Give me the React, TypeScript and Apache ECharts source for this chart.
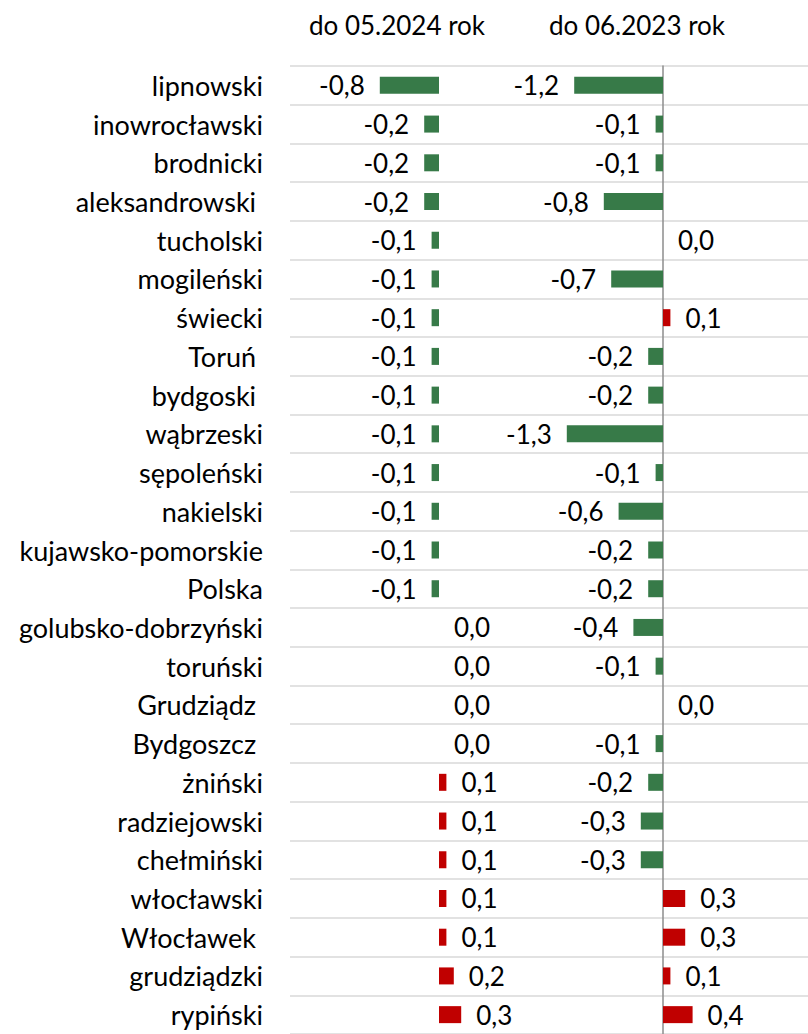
import React, { useEffect, useRef } from "react";
import * as echarts from "echarts";

const categories = [
  "lipnowski",
  "inowrocławski",
  "brodnicki",
  "aleksandrowski ",
  "tucholski",
  "mogileński",
  "świecki",
  "Toruń ",
  "bydgoski ",
  "wąbrzeski",
  "sępoleński",
  "nakielski",
  "kujawsko-pomorskie",
  "Polska",
  "golubsko-dobrzyński",
  "toruński",
  "Grudziądz ",
  "Bydgoszcz ",
  "żniński",
  "radziejowski",
  "chełmiński",
  "włocławski",
  "Włocławek ",
  "grudziądzki",
  "rypiński",
];

const values2024 = [
  -0.8, -0.2, -0.2, -0.2, -0.1, -0.1, -0.1, -0.1, -0.1, -0.1, -0.1, -0.1, -0.1,
  -0.1, 0.0, 0.0, 0.0, 0.0, 0.1, 0.1, 0.1, 0.1, 0.1, 0.2, 0.3,
];

const values2023 = [
  -1.2, -0.1, -0.1, -0.8, 0.0, -0.7, 0.1, -0.2, -0.2, -1.3, -0.1, -0.6, -0.2,
  -0.2, -0.4, -0.1, 0.0, -0.1, -0.2, -0.3, -0.3, 0.3, 0.3, 0.1, 0.4,
];

const seriesTitles = ["do 05.2024 rok", "do 06.2023 rok"];

const GREEN = "#377A48";
const RED = "#C00000";
const FONT = "Lato";
const FS_CAT = 27;
const FS_NUM = 26;

const PX_PER_UNIT = 74;
const ZERO_OFFSET = 149;

function fmt(v: number) {
  return v.toFixed(1).replace(".", ",");
}

function buildData(vals: number[]) {
  return vals.map((v) => ({
    value: v,
    itemStyle: { color: v < 0 ? GREEN : RED },
    label: { position: v < 0 ? "left" : "right" },
  }));
}

export default function App() {
  const ref = useRef<HTMLDivElement>(null);
  useEffect(() => {
    if (!ref.current) return;
    const chart = echarts.init(ref.current, null, { renderer: "svg" });
    const leftW = 224;
    const rightW = 294;
    const grids = [
      { left: 290, top: 66, width: leftW, height: 970 },
      { left: 290 + leftW, top: 66, width: rightW, height: 970 },
    ];
    const xAxes = grids.map((g, i) => ({
      type: "value",
      gridIndex: i,
      min: -ZERO_OFFSET / PX_PER_UNIT,
      max: (g.width - ZERO_OFFSET) / PX_PER_UNIT,
      show: false,
      splitLine: { show: false },
    }));
    const yAxes = grids.map((g, i) => ({
      type: "category",
      gridIndex: i,
      data: categories,
      inverse: true,
      axisTick: { show: false },
      axisLine: {
        show: i === 1,
        onZero: true,
        lineStyle: { color: "#8C8C8C", width: 1.5 },
      },
      splitLine: {
        show: true,
        lineStyle: { color: "#D9D9D9", width: 1.5 },
      },
      axisLabel: {
        show: i === 0,
        color: "#000",
        fontFamily: FONT,
        fontSize: FS_CAT,
        margin: 27,
      },
    }));
    const mkSeries = (vals: number[], i: number) => ({
      type: "bar",
      xAxisIndex: i,
      yAxisIndex: i,
      data: buildData(vals),
      barWidth: 17,
      label: {
        show: true,
        distance: 15,
        color: "#000",
        fontFamily: FONT,
        fontSize: FS_NUM,
        formatter: (p: any) => fmt(p.value),
      },
    });
    chart.setOption({
      animation: false,
      backgroundColor: "#fff",
      grid: grids,
      xAxis: xAxes,
      yAxis: yAxes,
      series: [mkSeries(values2024, 0), mkSeries(values2023, 1)],
      graphic: [
        {
          type: "text",
          x: 397,
          y: 25,
          style: {
            text: seriesTitles[0],
            fill: "#000",
            font: `${FS_NUM}px ${FONT}`,
            textAlign: "center",
            textVerticalAlign: "middle",
          },
        },
        {
          type: "text",
          x: 637,
          y: 25,
          style: {
            text: seriesTitles[1],
            fill: "#000",
            font: `${FS_NUM}px ${FONT}`,
            textAlign: "center",
            textVerticalAlign: "middle",
          },
        },
      ],
    });
    return () => chart.dispose();
  }, []);
  return (
    <div
      ref={ref}
      style={{ position: "fixed", left: 0, top: 0, width: 808, height: 1034 }}
    />
  );
}
